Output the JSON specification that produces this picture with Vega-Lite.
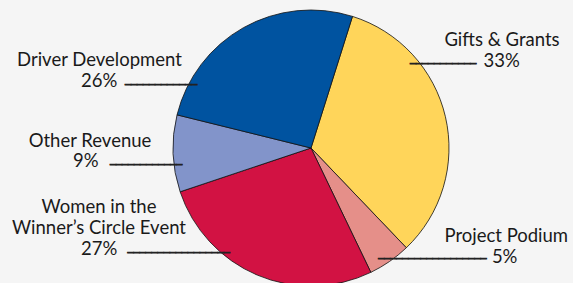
{
  "$schema": "https://vega.github.io/schema/vega-lite/v6.json",
  "width": 524,
  "height": 270,
  "autosize": "none",
  "padding": {"left": 49, "top": 13, "right": 0, "bottom": 0},
  "background": "#f5f5f5",
  "view": {"stroke": null},
  "data": {
    "values": [
      {"category": "Gifts & Grants", "share": 0.33, "label": ["Gifts & Grants"]},
      {"category": "Project Podium", "share": 0.05, "label": ["Project Podium"]},
      {"category": "Women in the Winner’s Circle Event", "share": 0.27, "label": ["Women in the", "Winner’s Circle Event"]},
      {"category": "Other Revenue", "share": 0.09, "label": ["Other Revenue"]},
      {"category": "Driver Development", "share": 0.26, "label": ["Driver Development"]}
    ]
  },
  "transform": [{"window": [{"op": "row_number", "as": "idx"}]}],
  "encoding": {
    "theta": {"field": "share", "type": "quantitative", "stack": true, "scale": {"range": [0.3054, 6.5886]}},
    "order": {"field": "idx", "type": "quantitative"}
  },
  "layer": [
    {
      "mark": {"type": "arc", "radius": 138, "stroke": "#111111", "strokeWidth": 0.8},
      "encoding": {
        "color": {
          "field": "category",
          "type": "nominal",
          "scale": {
            "domain": ["Gifts & Grants", "Project Podium", "Women in the Winner’s Circle Event", "Other Revenue", "Driver Development"],
            "range": ["#FFD55A", "#E58F89", "#D21243", "#8294CA", "#0053A0"]
          },
          "legend": null
        }
      }
    },
    {
      "mark": {
        "type": "text", "radius": 138, "align": "center", "baseline": "alphabetic",
        "font": "Lato", "fontSize": 18.5, "lineHeight": 21.3, "color": "#1a1a1a",
        "dx": {"expr": "[56.6, 116.7, -158.3, -83.1, -144][datum.idx - 1]"},
        "dy": {"expr": "[-70.7, -19.6, -62.4, -6.8, 38.4][datum.idx - 1]"}
      },
      "encoding": {"detail": {"field": "category"}, "text": {"field": "label"}}
    },
    {
      "mark": {
        "type": "text", "radius": 138, "align": "center", "baseline": "alphabetic",
        "font": "Lato", "fontSize": 18.5, "color": "#1a1a1a",
        "dx": {"expr": "[56.3, 115.1, -158.1, -87.3, -144.2][datum.idx - 1]"},
        "dy": {"expr": "[-50.2, 1.2, -20.1, 13.8, 59.7][datum.idx - 1]"}
      },
      "encoding": {"detail": {"field": "category"}, "text": {"field": "share", "type": "quantitative", "format": ".0%"}}
    },
    {
      "mark": {
        "type": "text", "radius": 138, "align": "left", "baseline": "alphabetic",
        "font": "DejaVu Sans Mono", "fontSize": 10, "color": "#222222", "stroke": "#222222", "strokeWidth": 0.8,
        "text": {"expr": "['───────────', '──────────────────', '─────────────────', '────────────', '────────────'][datum.idx - 1]"},
        "dx": {"expr": "[-35.4, -11.3, -129.8, -63.1, -118.5][datum.idx - 1]"},
        "dy": {"expr": "[-49.6, 0.5, -19.5, 14.1, 60][datum.idx - 1]"}
      },
      "encoding": {"detail": {"field": "category"}}
    }
  ]
}
